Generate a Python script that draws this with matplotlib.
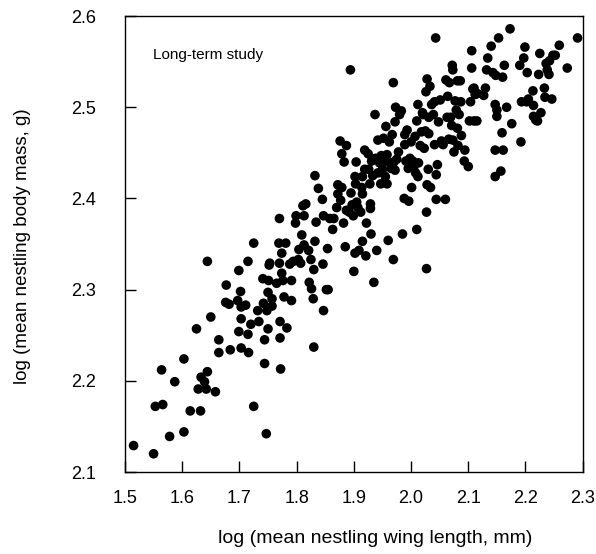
import numpy as np
import matplotlib
matplotlib.use("Agg")
import matplotlib.pyplot as plt

plt.rcParams['font.family'] = ['Liberation Sans', 'DejaVu Sans']

# log mean nestling wing length (mm) and log mean nestling body mass (g)
wing = [
    1.515, 1.550, 1.553, 1.566, 1.564, 1.578, 1.587, 1.603, 1.603, 1.614,
    1.625, 1.628, 1.632, 1.633, 1.639, 1.642, 1.644, 1.644, 1.650, 1.658,
    1.664, 1.664, 1.676, 1.677, 1.684, 1.682, 1.697, 1.699, 1.699, 1.702,
    1.703, 1.703, 1.703, 1.711, 1.715, 1.715, 1.716, 1.720, 1.725, 1.725,
    1.732, 1.734, 1.741, 1.742, 1.744, 1.744, 1.747, 1.750, 1.750, 1.751,
    1.752, 1.748, 1.753, 1.757, 1.757, 1.765, 1.769, 1.770, 1.770, 1.771,
    1.771, 1.772, 1.774, 1.774, 1.778, 1.781, 1.776, 1.783, 1.788, 1.791,
    1.791, 1.794, 1.798, 1.799, 1.803, 1.804, 1.807, 1.809, 1.811, 1.813,
    1.816, 1.813, 1.821, 1.822, 1.825, 1.826, 1.829, 1.830, 1.830, 1.832,
    1.832, 1.834, 1.838, 1.845, 1.846, 1.847, 1.847, 1.852, 1.854, 1.855,
    1.858, 1.863, 1.865, 1.870, 1.872, 1.872, 1.876, 1.877, 1.879, 1.879,
    1.882, 1.883, 1.885, 1.887, 1.887, 1.892, 1.894, 1.895, 1.897, 1.899,
    1.900, 1.902, 1.902, 1.903, 1.904, 1.905, 1.907, 1.909, 1.912, 1.914,
    1.915, 1.915, 1.915, 1.919, 1.919, 1.921, 1.922, 1.925, 1.926, 1.928,
    1.929, 1.929, 1.930, 1.931, 1.933, 1.935, 1.937, 1.938, 1.940, 1.942,
    1.942, 1.945, 1.947, 1.948, 1.950, 1.952, 1.954, 1.955, 1.956, 1.958,
    1.958, 1.960, 1.962, 1.963, 1.965, 1.967, 1.969, 1.969, 1.970, 1.972,
    1.972, 1.973, 1.975, 1.978, 1.980, 1.983, 1.985, 1.988, 1.989, 1.989,
    1.991, 1.993, 1.995, 1.996, 1.998, 2.000, 2.001, 2.003, 2.005, 2.007,
    2.008, 2.010, 2.010, 2.012, 2.012, 2.013, 2.016, 2.018, 2.020, 2.021,
    2.023, 2.025, 2.026, 2.027, 2.027, 2.028, 2.028, 2.030, 2.031, 2.031,
    2.033, 2.034, 2.036, 2.039, 2.041, 2.041, 2.043, 2.044, 2.044, 2.046,
    2.048, 2.051, 2.053, 2.056, 2.060, 2.061, 2.063, 2.064, 2.066, 2.067,
    2.069, 2.071, 2.072, 2.073, 2.073, 2.075, 2.077, 2.079, 2.081, 2.081,
    2.082, 2.084, 2.086, 2.087, 2.088, 2.093, 2.094, 2.100, 2.102, 2.104,
    2.106, 2.106, 2.108, 2.110, 2.112, 2.115, 2.127, 2.130, 2.132, 2.134,
    2.140, 2.143, 2.147, 2.147, 2.147, 2.148, 2.150, 2.153, 2.157, 2.159,
    2.160, 2.161, 2.163, 2.167, 2.173, 2.176, 2.190, 2.192, 2.193, 2.197,
    2.199, 2.202, 2.203, 2.205, 2.213, 2.214, 2.214, 2.218, 2.221, 2.223,
    2.225, 2.227, 2.233, 2.234, 2.236, 2.238, 2.241, 2.246, 2.248, 2.252,
    2.259, 2.273, 2.291, 2.150, 2.110, 2.116, 2.242,
]
mass = [
    2.129, 2.120, 2.172, 2.174, 2.212, 2.139, 2.199, 2.144, 2.224, 2.167,
    2.257, 2.191, 2.167, 2.204, 2.199, 2.191, 2.210, 2.331, 2.270, 2.188,
    2.245, 2.231, 2.286, 2.305, 2.234, 2.284, 2.288, 2.321, 2.254, 2.298,
    2.281, 2.268, 2.236, 2.283, 2.251, 2.331, 2.231, 2.262, 2.351, 2.172,
    2.277, 2.265, 2.312, 2.285, 2.245, 2.219, 2.142, 2.297, 2.257, 2.310,
    2.327, 2.277, 2.329, 2.290, 2.282, 2.307, 2.351, 2.329, 2.378, 2.265,
    2.247, 2.213, 2.340, 2.318, 2.292, 2.351, 2.310, 2.258, 2.328, 2.310,
    2.288, 2.331, 2.373, 2.381, 2.333, 2.344, 2.329, 2.360, 2.392, 2.381,
    2.394, 2.349, 2.343, 2.308, 2.333, 2.301, 2.290, 2.237, 2.322, 2.353,
    2.425, 2.374, 2.411, 2.399, 2.328, 2.277, 2.381, 2.300, 2.345, 2.300,
    2.378, 2.366, 2.378, 2.390, 2.405, 2.415, 2.463, 2.398, 2.412, 2.449,
    2.373, 2.440, 2.347, 2.458, 2.387, 2.385, 2.541, 2.406, 2.393, 2.381,
    2.320, 2.424, 2.340, 2.416, 2.440, 2.396, 2.390, 2.343, 2.385, 2.412,
    2.424, 2.405, 2.353, 2.453, 2.432, 2.337, 2.373, 2.449, 2.432, 2.416,
    2.394, 2.389, 2.361, 2.441, 2.425, 2.308, 2.492, 2.444, 2.343, 2.428,
    2.464, 2.439, 2.416, 2.447, 2.432, 2.466, 2.441, 2.424, 2.479, 2.416,
    2.448, 2.354, 2.462, 2.439, 2.433, 2.470, 2.527, 2.333, 2.440, 2.484,
    2.431, 2.500, 2.443, 2.451, 2.492, 2.496, 2.361, 2.400, 2.470, 2.459,
    2.441, 2.475, 2.433, 2.397, 2.444, 2.462, 2.412, 2.441, 2.435, 2.468,
    2.428, 2.485, 2.366, 2.503, 2.424, 2.439, 2.458, 2.473, 2.494, 2.492,
    2.455, 2.474, 2.517, 2.323, 2.385, 2.531, 2.415, 2.432, 2.489, 2.471,
    2.523, 2.412, 2.503, 2.492, 2.506, 2.459, 2.576, 2.399, 2.426, 2.437,
    2.484, 2.508, 2.463, 2.459, 2.399, 2.530, 2.489, 2.512, 2.465, 2.527,
    2.489, 2.480, 2.546, 2.464, 2.541, 2.451, 2.507, 2.497, 2.529, 2.477,
    2.458, 2.492, 2.529, 2.506, 2.469, 2.441, 2.453, 2.435, 2.485, 2.506,
    2.562, 2.543, 2.520, 2.485, 2.514, 2.485, 2.513, 2.521, 2.541, 2.554,
    2.567, 2.538, 2.424, 2.453, 2.503, 2.535, 2.497, 2.576, 2.430, 2.472,
    2.533, 2.453, 2.546, 2.500, 2.586, 2.482, 2.546, 2.462, 2.506, 2.554,
    2.566, 2.506, 2.538, 2.509, 2.518, 2.502, 2.490, 2.486, 2.485, 2.536,
    2.559, 2.494, 2.521, 2.511, 2.548, 2.541, 2.536, 2.509, 2.557, 2.557,
    2.568, 2.543, 2.576, 2.490, 2.521, 2.515, 2.551,
]

fig = plt.figure(figsize=(5.96, 5.54), dpi=100)
ax = fig.add_axes([0.2097, 0.148, 0.768, 0.823])

ax.scatter(wing, mass, s=48, color='black', edgecolors='none')

ax.set_xlim(1.5, 2.3)
ax.set_ylim(2.1, 2.6)
ax.set_xticks(np.arange(1.5, 2.31, 0.1))
ax.set_yticks(np.arange(2.1, 2.61, 0.1))
ax.set_xticklabels(['1.5', '1.6', '1.7', '1.8', '1.9', '2.0', '2.1', '2.2', '2.3'])
ax.set_yticklabels(['2.1', '2.2', '2.3', '2.4', '2.5', '2.6'])
ax.tick_params(direction='in', length=8, width=1, labelsize=13)
ax.tick_params(axis='x', pad=13)
ax.tick_params(axis='y', pad=21)
for sp in ax.spines.values():
    sp.set_linewidth(1)

ax.text(0.062, 0.905, 'Long-term study', transform=ax.transAxes, fontsize=11)

fig.text(0.63, 0.02, 'log (mean nestling wing length, mm)', ha='center', fontsize=14)
fig.text(0.037, 0.555, 'log (mean nestling body mass, g)', rotation=90,
         va='center', ha='center', fontsize=13.5)

fig.savefig('out.png', dpi=100)
